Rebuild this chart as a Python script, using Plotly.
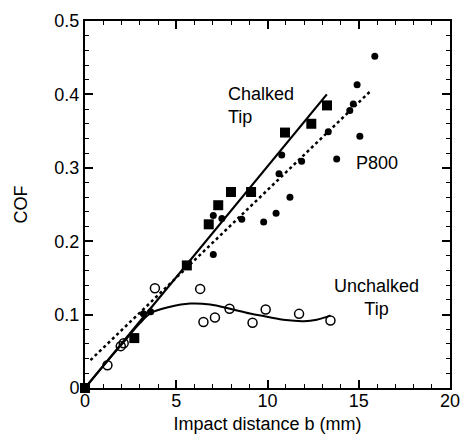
import plotly.graph_objects as go

# Chalked tip (filled squares)
chalk_x = [0, 2.7, 5.58, 6.78, 7.3, 8.0, 9.1, 10.96, 12.4, 13.26]
chalk_y = [0, 0.068, 0.167, 0.223, 0.249, 0.267, 0.267, 0.348, 0.360, 0.385]
chalk_fit_x = [0, 13.25]
chalk_fit_y = [0, 0.400]

# P800 (filled dots)
p800_x = [3.2, 3.6, 7.03, 7.03, 7.5, 8.59, 9.79, 10.47, 11.23, 10.63, 10.78,
          11.87, 13.33, 13.79, 14.51, 14.7, 15.06, 14.91, 15.88]
p800_y = [0.101, 0.104, 0.182, 0.235, 0.231, 0.230, 0.226, 0.238, 0.260, 0.292,
          0.3175, 0.309, 0.349, 0.312, 0.378, 0.387, 0.343, 0.413, 0.452]
p800_fit_x = [0.3, 15.6]
p800_fit_y = [0.038, 0.4035]

# Unchalked tip (open circles)
unch_x = [1.23, 1.96, 2.12, 3.83, 6.31, 6.49, 7.12, 7.92, 9.18, 9.9, 11.73, 13.45]
unch_y = [0.031, 0.057, 0.061, 0.136, 0.135, 0.090, 0.096, 0.108, 0.089, 0.107, 0.101, 0.092]
unch_fit_x = [0, 1, 2, 3, 3.6, 4.67, 5.76, 6.86, 7.95, 9.04, 9.9, 11.0, 12.0, 12.7, 13.2, 13.45]
unch_fit_y = [0, 0.030, 0.059, 0.088, 0.102, 0.1106, 0.115, 0.1137, 0.108, 0.1015,
              0.0975, 0.0925, 0.091, 0.093, 0.0965, 0.099]

x_ticks = [0, 5, 10, 15, 20]
y_ticks = [0, 0.1, 0.2, 0.3, 0.4, 0.5]
y_ticktext = ["0", "0.1", "0.2", "0.3", "0.4", "0.5"]

FONT = "Liberation Sans, Arial, Helvetica, sans-serif"

fig = go.Figure()
fig.add_trace(go.Scatter(x=chalk_fit_x, y=chalk_fit_y, mode="lines",
                         line=dict(color="black", width=2.2), showlegend=False))
fig.add_trace(go.Scatter(x=p800_fit_x, y=p800_fit_y, mode="lines",
                         line=dict(color="black", width=2.5, dash="dot"), showlegend=False))
fig.add_trace(go.Scatter(x=unch_fit_x, y=unch_fit_y, mode="lines",
                         line=dict(color="black", width=2, shape="spline", smoothing=1.0),
                         showlegend=False))
fig.add_trace(go.Scatter(x=unch_x, y=unch_y, mode="markers",
                         marker=dict(symbol="circle-open", size=9, color="black",
                                     line=dict(width=1.5, color="black")),
                         showlegend=False))
fig.add_trace(go.Scatter(x=p800_x, y=p800_y, mode="markers",
                         marker=dict(symbol="circle", size=7, color="black"),
                         showlegend=False))
fig.add_trace(go.Scatter(x=chalk_x, y=chalk_y, mode="markers",
                         marker=dict(symbol="square", size=10, color="black"),
                         showlegend=False, cliponaxis=False))

fig.add_annotation(x=7.75, y=0.385, xref="x", yref="y", text="Chalked<br>Tip",
                   showarrow=False, xanchor="left", yanchor="middle", align="left",
                   font=dict(size=18, color="black", family=FONT))
fig.add_annotation(x=14.75, y=0.307, xref="x", yref="y", text="P800",
                   showarrow=False, xanchor="left", yanchor="middle",
                   font=dict(size=18, color="black", family=FONT))
fig.add_annotation(x=15.97, y=0.123, xref="x", yref="y", text="Unchalked<br>Tip",
                   showarrow=False, xanchor="center", yanchor="middle", align="center",
                   font=dict(size=18, color="black", family=FONT))

axis_common = dict(showgrid=False, zeroline=False, showline=True, linecolor="black",
                   linewidth=2, mirror="allticks", ticks="inside", tickcolor="black",
                   ticklen=8, tickwidth=1.5, automargin=False,
                   tickfont=dict(size=18, color="black", family=FONT))

fig.update_xaxes(range=[0, 20], tickvals=x_ticks, ticklabelstandoff=-5,
                 title=dict(text="Impact distance b (mm)", font=dict(size=18, color="black", family=FONT),
                            standoff=8),
                 minor=dict(dtick=1, ticks="inside", ticklen=4, tickwidth=1.2, tickcolor="black"),
                 **axis_common)
fig.update_yaxes(range=[0, 0.5], tickvals=y_ticks, ticktext=y_ticktext,
                 title=dict(text="COF", font=dict(size=18, color="black", family=FONT), standoff=22),
                 minor=dict(dtick=0.02, ticks="inside", ticklen=4, tickwidth=1.2, tickcolor="black"),
                 **axis_common)

fig.update_layout(width=464, height=436, margin=dict(l=85, r=14, t=21, b=48),
                  paper_bgcolor="white", plot_bgcolor="white",
                  font=dict(family=FONT, color="black"))

fig.write_html("out.html")
